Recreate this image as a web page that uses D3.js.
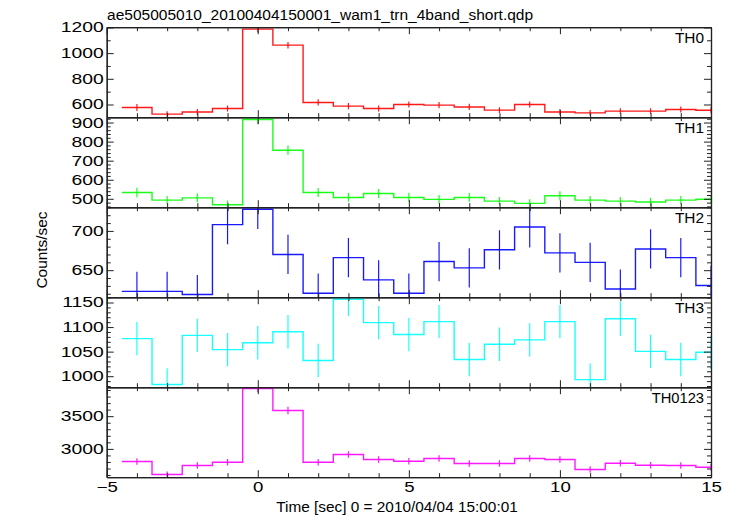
<!DOCTYPE html>
<html><head><meta charset="utf-8">
<script src="https://cdn.jsdelivr.net/npm/d3@7/dist/d3.min.js"></script>
<style>
body{margin:0;background:#fff;}
svg text{font-family:"Liberation Sans",Arial,Helvetica,sans-serif;font-size:14px;fill:#000;}
</style></head>
<body>
<svg id="c" width="733" height="516"></svg>
<script>
// ---- data ----
const title = "ae505005010_20100404150001_wam1_trn_4band_short.qdp";
const xLabel = "Time [sec] 0 = 2010/04/04 15:00:01";
const yLabel = "Counts/sec";
const time = [-4,-3,-2,-1,0,1,2,3,4,5,6,7,8,9,10,11,12,13,14,15];
const panelNames = ["TH0","TH1","TH2","TH3","TH0123"];
const th0 = [577,525,542,569,1187,1062,616,587,569,600,595,581,556,600,542,535,548,548,561,555];
const th0Err = [27,23,23,24,26,25,24,24,23,24,24,24,23,24,23,23,23,23,23,23];
const th1 = [533,493,505,469,916,755,533,507,528,507,497,507,488,476,516,493,488,483,493,498];
const th1Err = [25,22,23,22,24,24,24,23,24,23,23,23,22,22,23,22,22,22,22,22];
const th2 = [623,623,619,708,727.5,670,620.7,666,637.7,620.7,661,653,676,705,672,660,626,677,666,630.5];
const th2Err = [25,25,25,25,25,25,25,25,25,25,25,25,25,26,25,25,25,25,25,25];
const th3 = [1076.5,983,1083,1054,1068,1090.5,1032,1156.7,1109,1085,1111,1034,1065,1074,1111,993,1117,1050.6,1034,1048.6];
const th3Err = [34,33,34,34,34,34,34,34,34,34,34,34,34,34,34,33,35,34,34,34];
const th0123 = [2807,2608,2746,2796,3924,3587,2796,2914,2837,2812,2853,2776,2776,2853,2837,2684,2781,2750,2746,2720];
const th0123Err = [50,48,50,50,60,57,50,51,50,50,50,50,50,50,50,49,50,50,50,50];
const series = [th0, th1, th2, th3, th0123];
const seriesErr = [th0Err, th1Err, th2Err, th3Err, th0123Err];
const colors = ["#ff0000","#00ff00","#0000ff","#00ffff","#ff00ff"];
const yDomains = [[501,1202],[456,928],[615.6,730.2],[977.6,1160.8],[2567,3943]];
const yMajor = [[600,800,1000,1200],[500,600,700,800,900],[650,700],[1000,1050,1100,1150],[3000,3500]];
const yMinorStep = [100,20,10,10,100];
const xDomain = [-5,15];

// ---- layout ----
const svg = d3.select("#c");
const L = 106.7, R = 711, T = 27.2, PH = 90;
const x = d3.scaleLinear().domain(xDomain).range([L,R]);
const xMajor = [-5,0,5,10,15];
const xMinor = d3.range(-5,16,1);
const tickCol = "#222";

function stretch(sel, f){
  sel.each(function(){
    const w = this.getComputedTextLength();
    d3.select(this).attr("textLength", w*f).attr("lengthAdjust","spacingAndGlyphs");
  });
}

series.forEach((vals, p) => {
  const top = T + p*PH, bot = top + PH;
  const y = d3.scaleLinear().domain(yDomains[p]).range([bot, top]);
  const g = svg.append("g");
  const cid = "clip"+p;
  svg.append("clipPath").attr("id",cid).append("rect")
     .attr("x",L).attr("y",top).attr("width",R-L).attr("height",PH);

  // data step line
  const pts = [];
  time.forEach((t,i)=>{ pts.push([t-0.5, vals[i]]); pts.push([t+0.5, vals[i]]); });
  const line = d3.line().x(d=>x(d[0])).y(d=>y(d[1]));
  const dg = g.append("g").attr("clip-path",`url(#${cid})`);
  dg.append("path").attr("d", line(pts)).attr("fill","none")
    .attr("stroke", colors[p]).attr("stroke-width",1.4).attr("stroke-opacity",0.9);
  dg.selectAll("line.err").data(time).join("line").attr("class","err")
    .attr("x1",t=>x(t)).attr("x2",t=>x(t))
    .attr("y1",(t,i)=>y(vals[i]-seriesErr[p][i]))
    .attr("y2",(t,i)=>y(vals[i]+seriesErr[p][i]))
    .attr("stroke", colors[p]).attr("stroke-width",1.2).attr("stroke-opacity",0.9);

  // y axes
  const minor = d3.range(Math.ceil(yDomains[p][0]/yMinorStep[p])*yMinorStep[p], yDomains[p][1], yMinorStep[p])
      .filter(v=>!yMajor[p].includes(v));
  const axL = g.append("g").attr("transform",`translate(${L},0)`)
    .call(d3.axisLeft(y).tickValues(yMajor[p]).tickSizeInner(-7).tickSizeOuter(0).tickPadding(3).tickFormat(d3.format("d")));
  g.append("g").attr("transform",`translate(${L},0)`)
    .call(d3.axisLeft(y).tickValues(minor).tickSizeInner(-4).tickSizeOuter(0).tickFormat(""));
  g.append("g").attr("transform",`translate(${R},0)`)
    .call(d3.axisRight(y).tickValues(yMajor[p]).tickSizeInner(-7).tickSizeOuter(0).tickFormat(""));
  g.append("g").attr("transform",`translate(${R},0)`)
    .call(d3.axisRight(y).tickValues(minor).tickSizeInner(-4).tickSizeOuter(0).tickFormat(""));
  axL.selectAll("text").style("font-size","14px");

  // x axes
  const xm = xMinor.filter(v=>!xMajor.includes(v));
  const axB = g.append("g").attr("transform",`translate(0,${bot})`)
    .call(d3.axisBottom(x).tickValues(xMajor).tickSizeInner(-7).tickSizeOuter(0).tickPadding(5)
      .tickFormat(p===4 ? d3.format("d") : ""));
  g.append("g").attr("transform",`translate(0,${bot})`)
    .call(d3.axisBottom(x).tickValues(xm).tickSizeInner(-4).tickSizeOuter(0).tickFormat(""));
  g.append("g").attr("transform",`translate(0,${top})`)
    .call(d3.axisTop(x).tickValues(xMajor).tickSizeInner(-7).tickSizeOuter(0).tickFormat(""));
  g.append("g").attr("transform",`translate(0,${top})`)
    .call(d3.axisTop(x).tickValues(xm).tickSizeInner(-4).tickSizeOuter(0).tickFormat(""));

  g.selectAll(".domain").attr("stroke",tickCol).attr("stroke-width",1.2);
  g.selectAll(".tick line").attr("stroke",tickCol);
  g.selectAll(".tick text").attr("fill","#000").attr("font-family",null).attr("font-size",null);
  stretch(axL.selectAll("text"), 1.38);
  if (p===4) { axB.selectAll("text").attr("dy","0.71em"); stretch(axB.selectAll("text"), 1.33); }

  // panel label
  const lbl = g.append("text").attr("x",704).attr("y",top+15.5).attr("text-anchor","end").text(panelNames[p]);
  stretch(lbl, panelNames[p].length>3 ? 1.05 : 1.1);
});

const tt = svg.append("text").attr("x",107).attr("y",20).text(title);
stretch(tt, 1.108);
const xl = svg.append("text").attr("x",397).attr("y",511.5).attr("text-anchor","middle").text(xLabel);
stretch(xl, 1.097);
const yl = svg.append("text").attr("transform","translate(47,250) rotate(-90)").attr("text-anchor","middle").text(yLabel);
stretch(yl, 1.1);
</script>
</body></html>
